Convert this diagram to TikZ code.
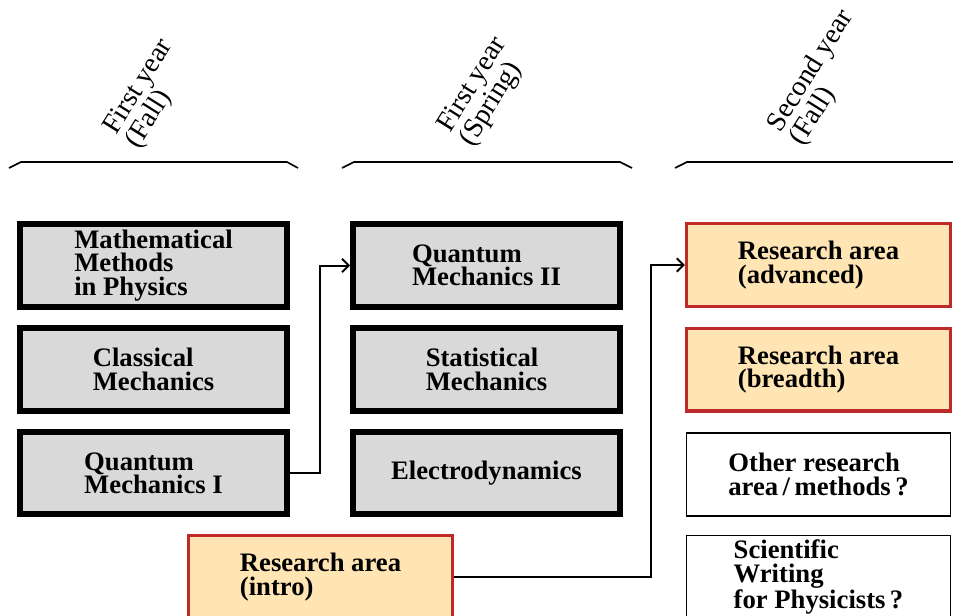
\documentclass[tikz,border=0pt]{standalone}
\usepackage{fontspec}
\setmainfont{Liberation Serif}
\usetikzlibrary{arrows.meta}

\definecolor{boxgray}{HTML}{D9D9D9}
\definecolor{areared}{HTML}{BE2A2A}
\definecolor{areafill}{HTML}{FFE5B4}

\begin{document}
\begin{tikzpicture}[x=0.75pt,y=0.75pt,yscale=-1,xscale=1,
  course/.style={draw=black, line width=4.5pt, fill=boxgray, minimum width=200pt, minimum height=62pt, align=left, inner sep=0pt, font=\fontsize{20}{17.5}\selectfont\bfseries},
  research/.style={draw=areared, line width=2.5pt, fill=areafill, minimum width=198pt, minimum height=62pt, align=left, inner sep=0pt, font=\fontsize{20}{17.5}\selectfont\bfseries},
  option/.style={draw=black, line width=1.2pt, fill=white, minimum width=198pt, minimum height=62pt, align=left, inner sep=0pt, font=\fontsize{20}{17.5}\selectfont\bfseries},
  head/.style={rotate=58, align=left, inner sep=0pt, font=\fontsize{21}{19.5}\selectfont},
  link/.style={line width=1.5pt, -{Straight Barb[length=5pt,width=10pt,line width=1.5pt]}},
  brace/.style={line width=1.2pt}]
\useasboundingbox (0,0) rectangle (953,615);
% Headers
\node[head] (hfirstfall) at (150,94) {First year\\(Fall)};
\node[head] (hfirstspring) at (484,92) {First year\\(Spring)};
\node[head] (hsecondfall) at (822,78) {Second year\\(Fall)};
% Brackets
\draw[brace] (9,168) -- (21,162) -- (287,162) -- (298,168);
\draw[brace] (342,168) -- (354,162) -- (620,162) -- (632,168);
\draw[brace] (675,168) -- (687,162) -- (960,162);
% First year (Fall)
\node[course] (mathmeth) at (153.5,265.5) {Mathematical\\Methods\\in Physics};
\node[course] (classmech) at (153.5,369.5) {Classical\\Mechanics};
\node[course] (qmone) at (153.5,473) {Quantum\\Mechanics I};
% First year (Spring)
\node[course] (qmtwo) at (486.5,265.5) {Quantum\\Mechanics II};
\node[course] (statmech) at (486.5,369.5) {Statistical\\Mechanics};
\node[course] (edyn) at (486.5,473) {Electrodynamics};
% Research
\node[research] (resintro) at (320.5,577) {Research area\\(intro)};
\node[research] (resadv) at (818.5,265) {Research area\\(advanced)};
\node[research] (resbreadth) at (818.5,369.5) {Research area\\(breadth)};
\node[option] (othermeth) at (818.5,474.5) {Other research\\area\,/\,methods\,?};
\node[option] (sciwrite) at (818.5,577) {Scientific\\Writing\\for Physicists\,?};
% Connectors
\draw[link] (qmone.east) -- ++(30,0) |- (qmtwo.west);
\draw[link] (resintro.east) -- ++(197,0) |- (resadv.west);
\end{tikzpicture}
\end{document}
